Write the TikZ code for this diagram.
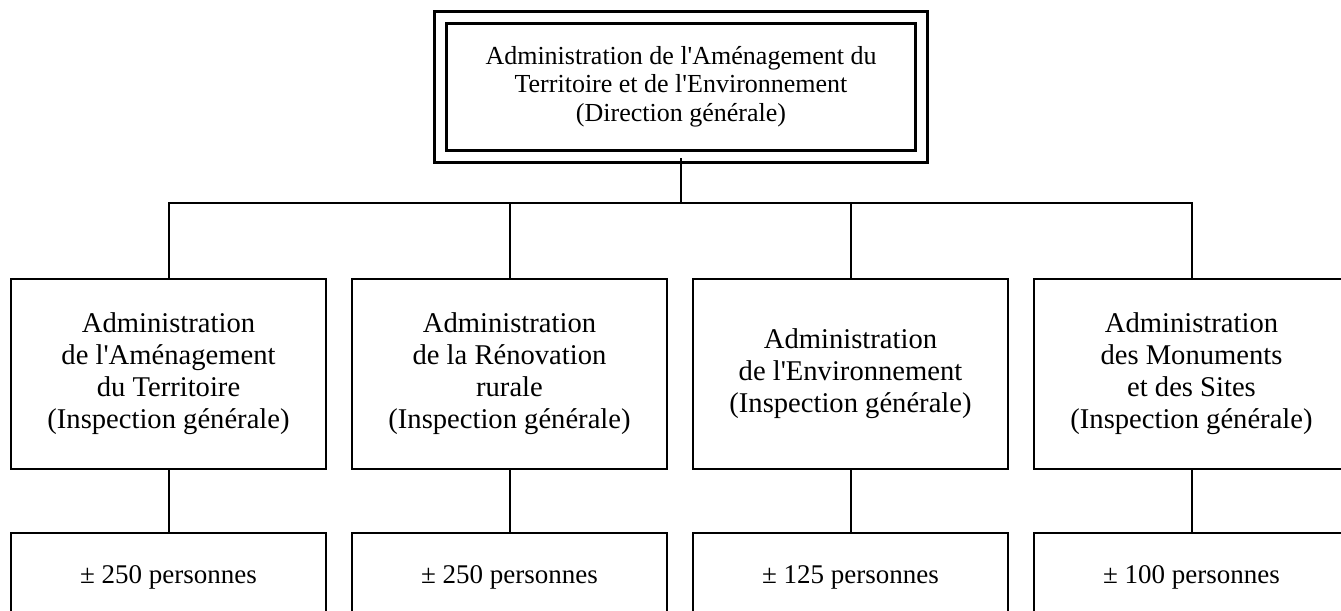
\documentclass[tikz,border=0pt]{standalone}
\usepackage{fontspec}
\setmainfont{Liberation Serif}[Ligatures=TeXOff]
\usetikzlibrary{positioning}

\begin{document}
\begin{tikzpicture}[x=0.5pt,y=-0.5pt,node distance=170.5pt,line width=1pt,
                    top node/.style={draw,double,line width=1.5pt,double distance=4.5pt,
                      minimum width=240.5pt,minimum height=69.75pt,inner sep=0pt,align=center,
                      font=\fontsize{13}{14.25}\selectfont,execute at begin node={\rule{0pt}{14pt}}},
                    main node/.style={draw,line width=1.2pt,minimum width=157.5pt,minimum height=95pt,
                      inner sep=0pt,align=center,font=\fontsize{14.3}{16}\selectfont,
                      execute at begin node={\rule{0pt}{14.5pt}}},
                    count node/.style={draw,line width=1.2pt,minimum width=157.5pt,minimum height=44pt,
                      inner sep=0pt,font=\fontsize{13.5}{16}\selectfont}]
\useasboundingbox (0,0) rectangle (1341,611);

\node[top node] (1) at (681,86.75) {Administration de l'Aménagement du\\Territoire et de l'Environnement\\(Direction générale)};

\node[main node] (2) at (168.5,374) {Administration\\de l'Aménagement\\du Territoire\\(Inspection générale)};
\node[main node] (3) [right of=2] {Administration\\de la Rénovation\\rurale\\(Inspection générale)};
\node[main node] (4) [right of=3] {Administration\\de l'Environnement\\(Inspection générale)};
\node[main node] (5) [right of=4] {Administration\\des Monuments\\et des Sites\\(Inspection générale)};

\node[count node] (6) [below of=2,node distance=101.5pt] {± 250 personnes};
\node[count node] (7) [below of=3,node distance=101.5pt] {± 250 personnes};
\node[count node] (8) [below of=4,node distance=101.5pt] {± 125 personnes};
\node[count node] (9) [below of=5,node distance=101.5pt] {± 100 personnes};

\coordinate (bus) at (681,203);

\path[draw]
  (1) -- (bus)
  (2) |- (bus)
  (3) |- (bus)
  (4) |- (bus)
  (5) |- (bus)
  (2) -- (6)
  (3) -- (7)
  (4) -- (8)
  (5) -- (9);
\end{tikzpicture}
\end{document}
